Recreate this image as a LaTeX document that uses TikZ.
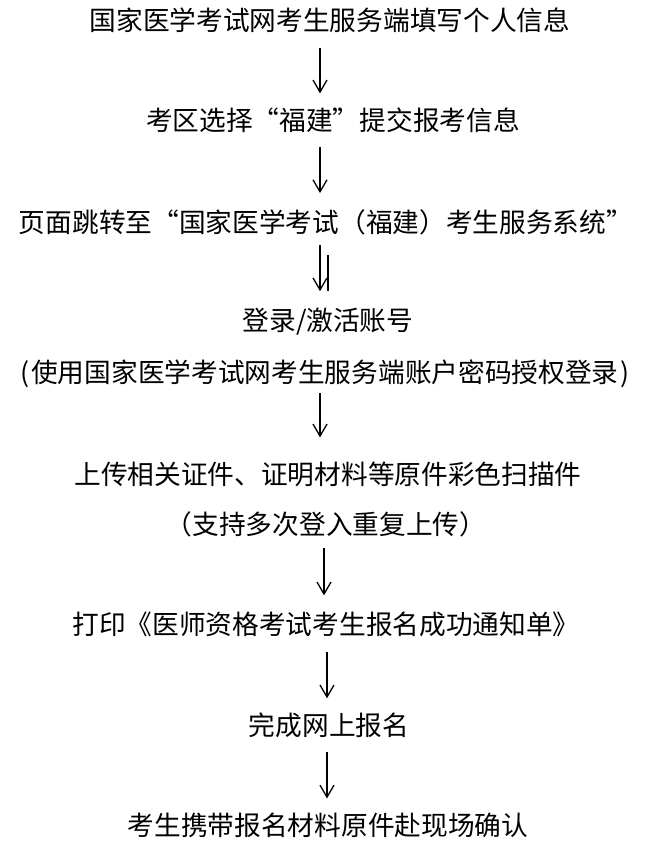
\documentclass[tikz,border=0pt]{standalone}
\usepackage{fontspec}
\usepackage{tikz}
\newfontfamily\cjk{Noto Sans CJK SC}
\definecolor{ink}{RGB}{0,0,0}
\usetikzlibrary{arrows.meta}
\tikzset{%
  step text/.style={inner sep=0pt, text=ink, font=\cjk\fontsize{26.7}{30}\selectfont},% one step of the flow
  flow/.style={draw=ink, line width=1.3pt,
    -{Straight Barb[length=12pt, width=14pt, line width=1.3pt]}},% arrow between steps
  stray/.style={draw=ink, line width=1.7pt}% loose line beside third arrow
}
\begin{document}
\begin{tikzpicture}[x=1pt, y=-1pt]
\useasboundingbox (0,0) rectangle (648,847);

\node[step text] (t1) at (330, 20) {国家医学考试网考生服务端填写个人信息};
\node[step text] (t2) at (333, 120) {考区选择“福建”提交报考信息};
\node[step text] (t3) at (326, 222) {页面跳转至“国家医学考试（福建）考生服务系统”};
\node[step text] (t4) at (328, 322) {登录/激活账号};
\node[step text] (t5) at (325, 374) {(\kern2pt 使用国家医学考试网考生服务端账户密码授权登录\kern2pt)};
\node[step text] (t6) at (328, 474) {上传相关证件、证明材料等原件彩色扫描件};
\node[step text] (t7) at (326, 524) {（支持多次登入重复上传）};
\node[step text] (t8) at (326, 624) {打印《医师资格考试考生报名成功通知单》};
\node[step text] (t9) at (329, 725) {完成网上报名};
\node[step text] (t10) at (328, 825) {考生携带报名材料原件赴现场确认};

\draw[flow, shorten <=15pt, shorten >=14pt] (t1.south -| 320,0) -- (t2.north -| 320,0);
\draw[flow, shorten <=14pt, shorten >=16pt] (t2.south -| 320,0) -- (t3.north -| 320,0);
\draw[flow, shorten <=10pt, shorten >=17pt] (t3.south -| 320,0) -- (t4.north -| 320,0);
\draw[stray] ([yshift=-20pt]t3.south -| 328,0) -- ([yshift=-56pt]t3.south -| 328,0);
\draw[flow, shorten <=5pt, shorten >=24pt] (t5.south -| 320,0) -- (t6.north -| 320,0);
\draw[flow, shorten <=11pt, shorten >=16pt] (t7.south -| 324,0) -- (t8.north -| 324,0);
\draw[flow, shorten <=15pt, shorten >=14pt] (t8.south -| 327,0) -- (t9.north -| 327,0);
\draw[flow, shorten <=14pt, shorten >=14pt] (t9.south -| 327,0) -- (t10.north -| 327,0);

\end{tikzpicture}
\end{document}
